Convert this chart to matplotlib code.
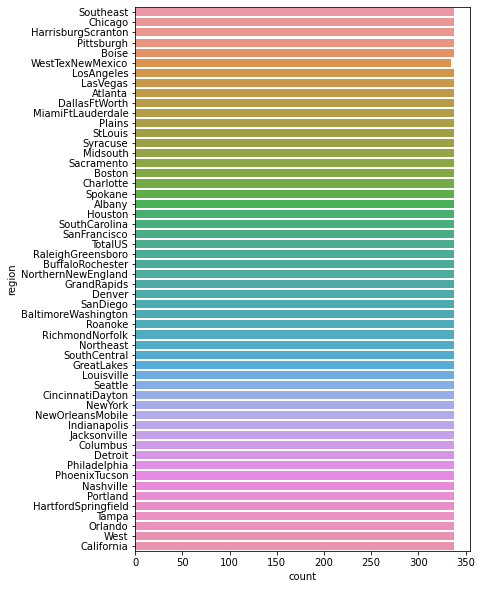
#! /usr/bin/env python3

import matplotlib
matplotlib.use('Agg')
import matplotlib.pyplot as plt
import seaborn as sns

regions = ['Southeast', 'Chicago', 'HarrisburgScranton', 'Pittsburgh', 'Boise',
           'WestTexNewMexico', 'LosAngeles', 'LasVegas', 'Atlanta', 'DallasFtWorth',
           'MiamiFtLauderdale', 'Plains', 'StLouis', 'Syracuse', 'Midsouth',
           'Sacramento', 'Boston', 'Charlotte', 'Spokane', 'Albany', 'Houston',
           'SouthCarolina', 'SanFrancisco', 'TotalUS', 'RaleighGreensboro',
           'BuffaloRochester', 'NorthernNewEngland', 'GrandRapids', 'Denver',
           'SanDiego', 'BaltimoreWashington', 'Roanoke', 'RichmondNorfolk',
           'Northeast', 'SouthCentral', 'GreatLakes', 'Louisville', 'Seattle',
           'CincinnatiDayton', 'NewYork', 'NewOrleansMobile', 'Indianapolis',
           'Jacksonville', 'Columbus', 'Detroit', 'Philadelphia', 'PhoenixTucson',
           'Nashville', 'Portland', 'HartfordSpringfield', 'Tampa', 'Orlando',
           'West', 'California']
counts = [338] * len(regions)
counts[5] = 335

# 72 dpi so the default 10pt text comes out 10px tall
dpi = 72
fig, ax = plt.subplots(figsize=(482 / dpi, 589 / dpi), dpi=dpi)
sns.barplot(x=counts, y=regions, hue=regions, palette=sns.husl_palette(len(regions), l=.7),
            legend=False, saturation=0.75, ax=ax)
ax.set_xlabel('count')
ax.set_ylabel('region')
ax.set_xlim(0, 355)
fig.subplots_adjust(left=135.3 / 482, right=470.3 / 482, top=1 - 7.3 / 589, bottom=1 - 551 / 589)
fig.savefig('out.png', dpi=dpi)
